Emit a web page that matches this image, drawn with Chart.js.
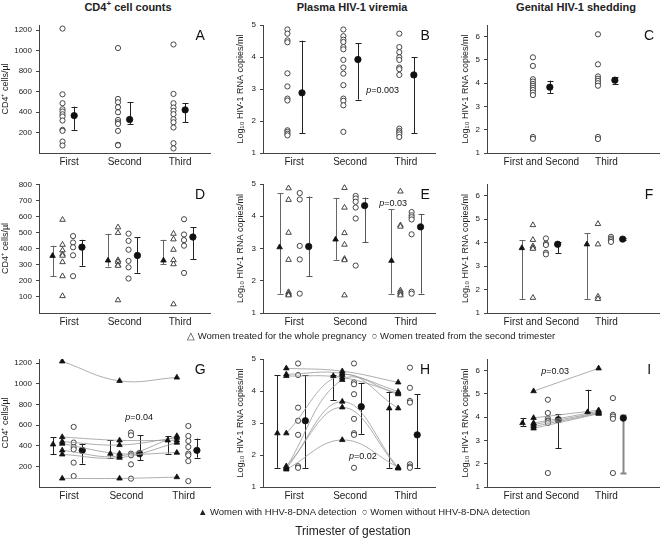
<!DOCTYPE html>
<html>
<head>
<meta charset="utf-8">
<script src="https://cdn.jsdelivr.net/npm/chart.js@4.4.1/dist/chart.umd.min.js"></script>
<style>
  body { margin: 0; background: #fff; font-family: "Liberation Sans", Arial, sans-serif; color: #222; }
  #wrap { position: relative; width: 664px; height: 538px; overflow: hidden; }
  canvas { position: absolute; }
  .col-title { position: absolute; top: 1px; width: 220px; text-align: center; font-weight: bold; font-size: 11px; }
  .col-title sup { font-size: 8px; line-height: 0; }
  .legend { position: absolute; font-size: 9.5px; white-space: nowrap; }
  .xtitle { position: absolute; top: 524px; left: 253px; width: 200px; text-align: center; font-size: 12px; }
</style>
</head>
<body>
<div id="wrap">
  <div class="col-title" style="left:18px">CD4<sup>+</sup> cell counts</div>
  <div class="col-title" style="left:242px">Plasma HIV-1 viremia</div>
  <div class="col-title" style="left:466px">Genital HIV-1 shedding</div>

  <canvas id="cA" width="215" height="160" style="left:0;top:15px"></canvas>
  <canvas id="cB" width="225" height="160" style="left:215px;top:15px"></canvas>
  <canvas id="cC" width="224" height="160" style="left:440px;top:15px"></canvas>
  <canvas id="cD" width="215" height="160" style="left:0;top:174px"></canvas>
  <canvas id="cE" width="225" height="160" style="left:215px;top:174px"></canvas>
  <canvas id="cF" width="224" height="160" style="left:440px;top:174px"></canvas>
  <canvas id="cG" width="215" height="160" style="left:0;top:349px"></canvas>
  <canvas id="cH" width="225" height="160" style="left:215px;top:349px"></canvas>
  <canvas id="cI" width="224" height="160" style="left:440px;top:349px"></canvas>

  <div class="legend" style="left:187px;top:330px">&#9651; Women treated for the whole pregnancy&nbsp; &#9675; Women treated from the second trimester</div>
  <div class="legend" style="left:198px;top:506px">&#9650; Women with HHV-8-DNA detection&nbsp; &#9675; Women without HHV-8-DNA detection</div>
  <div class="xtitle">Trimester of gestation</div>
</div>
<script>
// categories and tick labels
const trimesters = ["First", "Second", "Third"];
const periods = ["First and Second", "Third"];
const cd4Ticks = [200, 400, 600, 800, 1000, 1200];
const cd4SplitTicks = [100, 200, 300, 400, 500, 600, 700, 800];
const plasmaTicks = [1, 2, 3, 4, 5];
const genitalTicks = [1, 2, 3, 4, 5, 6];

// A - CD4 all women
const cd4All = [
  [1215, 573, 486, 427, 405, 378, 356, 317, 226, 216, 112, 73],
  [1025, 528, 495, 447, 398, 323, 300, 284, 216, 80, 75],
  [1060, 577, 486, 444, 411, 379, 330, 300, 249, 96, 45]
];
const cd4AllMean = [365, 327, 421];
const cd4AllLow = [226, 284, 300];
const cd4AllHigh = [453, 495, 486];

// B - plasma viremia all women
const plasmaAll = [
  [4.86, 4.73, 4.52, 4.46, 3.49, 3.08, 2.70, 2.64, 1.71, 1.66, 1.60, 1.55],
  [4.86, 4.65, 4.54, 4.47, 4.31, 4.24, 3.91, 3.67, 3.48, 3.12, 2.70, 2.63, 2.49, 1.66],
  [4.73, 4.31, 4.15, 3.99, 3.91, 3.67, 3.62, 3.44, 1.76, 1.69, 1.64, 1.58, 1.50]
];
const plasmaAllMean = [2.88, 3.92, 3.44];
const plasmaAllLow = [1.62, 2.67, 1.62];
const plasmaAllHigh = [4.51, 4.44, 3.99];

// C - genital shedding all women
const genitalAll = [
  [5.11, 4.74, 4.17, 4.07, 3.97, 3.89, 3.80, 3.71, 3.60, 3.49, 1.69, 1.61],
  [6.10, 4.81, 4.29, 4.19, 4.10, 4.00, 3.89, 1.69, 1.60]
];
const genitalAllMean = [3.83, 4.13];
const genitalAllLow = [3.57, 3.97];
const genitalAllHigh = [4.11, 4.25];

// D - CD4 by treatment start
const cd4Whole = [
  [582, 426, 391, 366, 358, 318, 230, 106],
  [535, 500, 330, 320, 300, 295, 80],
  [495, 460, 395, 330, 305, 55]
];
const cd4Second = [
  [480, 440, 410, 360, 230],
  [495, 450, 395, 325, 285, 215],
  [585, 490, 455, 420, 250]
];
const cd4WholeMean = [357, 328, 328];
const cd4WholeLow = [228, 290, 305];
const cd4WholeHigh = [420, 494, 457];
const cd4SecondMean = [411, 359, 474];
const cd4SecondLow = [295, 251, 336];
const cd4SecondHigh = [457, 474, 536];

// E - plasma by treatment start
const plasmaWhole = [
  [4.87, 4.51, 3.49, 2.65, 1.65, 1.60, 1.57, 1.55],
  [4.88, 4.27, 3.48, 3.12, 2.68, 2.64, 1.55],
  [4.77, 3.72, 3.68, 1.70, 1.65, 1.60, 1.55]
];
const plasmaSecond = [
  [4.72, 4.52, 3.08, 2.66, 1.60],
  [4.63, 4.55, 4.45, 4.27, 3.93, 2.47],
  [4.13, 4.03, 3.97, 3.90, 3.44, 1.66, 1.60]
];
const plasmaWholeMean = [3.04, 3.28, 2.62];
const plasmaWholeLow = [1.60, 2.65, 1.60];
const plasmaWholeHigh = [4.71, 4.57, 4.21];
const plasmaSecondMean = [3.06, 4.33, 3.67];
const plasmaSecondLow = [2.15, 3.20, 1.60];
const plasmaSecondHigh = [4.61, 4.58, 4.06];

// F - genital by treatment start
const genitalWhole = [
  [4.75, 4.12, 3.85, 3.78, 3.74, 1.65],
  [4.80, 3.93, 1.70, 1.60]
];
const genitalSecond = [
  [4.18, 3.95, 3.90, 3.57, 3.50],
  [4.25, 4.17, 4.10, 4.03]
];
const genitalWholeMean = [3.77, 3.93];
const genitalWholeLow = [1.60, 1.60];
const genitalWholeHigh = [4.10, 4.39];
const genitalSecondMean = [3.93, 4.15];
const genitalSecondLow = [3.55, 4.10];
const genitalSecondHigh = [4.03, 4.20];

// G - CD4 by HHV-8 (positive women followed across trimesters)
const cd4Hhv = [
  [1217, 484, 440, 420, 355, 316, 83],
  [1028, 452, 407, 323, 300, 284, 83],
  [1061, 452, 478, 333, 494, 430, 96]
];
const cd4NoHhv = [
  [582, 430, 388, 365, 236, 106],
  [527, 501, 323, 307, 219, 81],
  [591, 494, 446, 388, 323, 307, 251, 57]
];
const cd4HhvMean = [413, 323, 452];
const cd4HhvLow = [316, 284, 323];
const cd4HhvHigh = [484, 452, 494];
const cd4NoHhvMean = [355, 323, 355];
const cd4NoHhvLow = [226, 258, 284];
const cd4NoHhvHigh = [420, 501, 469];

// H - plasma by HHV-8
const plasmaHhv = [
  [4.71, 4.52, 4.47, 2.68, 1.62, 1.58, 1.65, 1.55],
  [4.62, 4.55, 4.42, 4.50, 4.35, 3.67, 3.49, 2.47],
  [4.27, 3.98, 3.93, 3.46, 3.90, 1.60, 1.58, 1.62]
];
const plasmaNoHhv = [
  [4.86, 4.50, 3.48, 3.07, 2.63, 1.65, 1.60],
  [4.86, 4.27, 4.21, 3.90, 3.13, 2.68, 2.63, 1.60],
  [4.73, 4.10, 3.69, 3.64, 1.71, 1.64, 1.60]
];
const plasmaHhvMean = [2.68, 4.47, 3.46];
const plasmaHhvLow = [1.60, 3.72, 1.60];
const plasmaHhvHigh = [4.50, 4.50, 3.98];
const plasmaNoHhvMean = [3.07, 3.51, 2.63];
const plasmaNoHhvLow = [1.60, 2.66, 1.60];
const plasmaNoHhvHigh = [4.50, 4.24, 3.90];

// I - genital by HHV-8
const genitalHhv = [
  [5.12, 3.97, 3.75, 3.68, 3.60, 3.52],
  [6.10, 4.30, 4.25, 4.20, 4.17, 4.15]
];
const genitalNoHhv = [
  [4.75, 4.18, 3.94, 3.86, 3.82, 3.75, 1.60],
  [4.82, 4.10, 4.03, 3.93, 1.60]
];
const genitalHhvMean = [3.75, 4.22];
const genitalHhvLow = [3.63, 4.22];
const genitalHhvHigh = [3.97, 5.18];
const genitalNoHhvMean = [3.89, 3.96];
const genitalNoHhvLow = [2.67, 1.59];
const genitalNoHhvHigh = [4.13, 4.10];

// ---- styling ----
const fontFamily = "'Liberation Sans', Arial, sans-serif";
Chart.defaults.font.family = fontFamily;
Chart.defaults.color = "#222";

const ink = "#222";
const axisColor = "#444";
const openCircle = { pointStyle: "circle", pointRadius: 2.6, pointBackgroundColor: "#fff", pointBorderColor: "#333", pointBorderWidth: 0.9 };
const openTri = { pointStyle: "triangle", pointRadius: 3.2, pointBackgroundColor: "#fff", pointBorderColor: "#333", pointBorderWidth: 0.9 };
const filledTri = { pointStyle: "triangle", pointRadius: 3.2, pointBackgroundColor: "#111", pointBorderColor: "#111", pointBorderWidth: 0.8 };
const filledDot = { pointStyle: "circle", pointRadius: 3.2, pointBackgroundColor: "#111", pointBorderColor: "#111", pointBorderWidth: 0.8 };

function cloud(groups, shift, style) {
  return Object.assign({
    data: groups.flatMap((vals, i) => vals.map(v => ({ x: i + 1 + shift, y: v })))
  }, style);
}

function summary(mean, low, high, shift, style, barColor, barWidth) {
  return Object.assign({
    data: mean.map((v, i) => ({ x: i + 1 + shift, y: v })),
    errLow: low, errHigh: high, errColor: barColor, errWidth: barWidth || 1
  }, style);
}

// one curved line per woman followed over time
function followed(groups, shift) {
  return groups[0].map((_, w) => Object.assign({
    data: groups.map((vals, i) => ({ x: i + 1 + shift, y: vals[w] })),
    showLine: true, tension: 0.4, borderColor: "#999", borderWidth: 0.8
  }, filledTri));
}

const extras = {
  id: "extras",
  beforeDatasetsDraw(chart) {
    const { ctx, scales: { x, y } } = chart;
    chart.data.datasets.forEach(ds => {
      if (!ds.errLow) return;
      ds.data.forEach((p, i) => {
        const px = Math.round(x.getPixelForValue(p.x)) + 0.5;
        const y1 = y.getPixelForValue(ds.errLow[i]);
        const y2 = y.getPixelForValue(ds.errHigh[i]);
        ctx.save();
        ctx.strokeStyle = Array.isArray(ds.errColor) ? ds.errColor[i] : ds.errColor;
        ctx.lineWidth = Array.isArray(ds.errWidth) ? ds.errWidth[i] : ds.errWidth;
        ctx.beginPath();
        ctx.moveTo(px, y1); ctx.lineTo(px, y2);
        ctx.moveTo(px - 3, Math.round(y1) + 0.5); ctx.lineTo(px + 3, Math.round(y1) + 0.5);
        ctx.moveTo(px - 3, Math.round(y2) + 0.5); ctx.lineTo(px + 3, Math.round(y2) + 0.5);
        ctx.stroke();
        ctx.restore();
      });
    });
  },
  afterDraw(chart, args, opts) {
    const { ctx, chartArea: a, scales: { x, y } } = chart;
    ctx.save();
    ctx.fillStyle = "#111";
    ctx.textBaseline = "middle";
    ctx.textAlign = "center";
    ctx.font = "14px " + fontFamily;
    ctx.fillText(opts.letter, a.right - 10, a.top + 11);
    if (opts.p) {
      const cx = x.getPixelForValue(opts.p.x);
      const cy = y.getPixelForValue(opts.p.y);
      ctx.textAlign = "left";
      ctx.font = "italic 9px " + fontFamily;
      const w1 = ctx.measureText("p").width;
      ctx.font = "9px " + fontFamily;
      const rest = "=" + opts.p.text;
      const w2 = ctx.measureText(rest).width;
      const start = cx - (w1 + w2) / 2;
      ctx.font = "italic 9px " + fontFamily;
      ctx.fillText("p", start, cy);
      ctx.font = "9px " + fontFamily;
      ctx.fillText(rest, start + w1, cy);
    }
    ctx.restore();
  }
};

const cd4Title = "CD4\u207A cells/\u00B5l";
const logTitle = "Log\u2081\u2080 HIV-1 RNA copies/ml";

function panel(id, o) {
  new Chart(document.getElementById(id), {
    type: "scatter",
    data: { datasets: o.datasets },
    plugins: [extras],
    options: {
      responsive: false,
      devicePixelRatio: 1,
      animation: false,
      events: [],
      layout: { padding: { top: 10, left: o.padLeft, right: 0, bottom: 0 } },
      plugins: {
        legend: { display: false },
        tooltip: { enabled: false },
        extras: { letter: o.letter, p: o.p }
      },
      scales: {
        x: {
          type: "linear", min: o.xMin, max: o.xMax,
          afterBuildTicks: s => { s.ticks = o.labels.map((_, i) => ({ value: i + 1 })); },
          afterFit: s => { s.height = o.xHeight; },
          ticks: { callback: v => o.labels[Math.round(v) - 1], font: { size: 10 }, color: ink, padding: 3, autoSkip: false, maxRotation: 0 },
          grid: { display: false, drawTicks: false, tickLength: 0 },
          border: { color: axisColor, width: 1 }
        },
        y: {
          min: o.yMin, max: o.yMax,
          afterBuildTicks: s => { s.ticks = o.yTicks.map(v => ({ value: v })); },
          afterFit: s => { s.width = o.yWidth; },
          ticks: { callback: v => String(v), font: { size: 8 }, color: ink, padding: 4 },
          grid: { drawOnChartArea: false, tickLength: 3, color: axisColor },
          border: { color: axisColor, width: 1 },
          title: { display: true, text: o.yTitle, font: { size: 9 }, color: ink, padding: 0 }
        }
      }
    }
  });
}

const col1 = { padLeft: 0, yWidth: 39 };
const col2 = { padLeft: 20, yWidth: 28, xMin: 0.443, xMax: 3.52, labels: trimesters, yMin: 1, yMax: 5, yTicks: plasmaTicks, yTitle: logTitle };
const col3 = { padLeft: 20, yWidth: 27, xMin: 0.164, xMax: 2.81, labels: periods, yMin: 1, yMax: 6.5, yTicks: genitalTicks, yTitle: logTitle };

panel("cA", Object.assign({}, col1, {
  letter: "A", xHeight: 22, xMin: 0.456, xMax: 3.54, labels: trimesters,
  yMin: 0, yMax: 1250, yTicks: cd4Ticks, yTitle: cd4Title,
  datasets: [
    cloud(cd4All, -0.12, openCircle),
    summary(cd4AllMean, cd4AllLow, cd4AllHigh, 0.09, filledDot, ink)
  ]
}));

panel("cB", Object.assign({}, col2, {
  letter: "B", xHeight: 22, p: { x: 2.58, y: 2.95, text: "0.003" },
  datasets: [
    cloud(plasmaAll, -0.12, openCircle),
    summary(plasmaAllMean, plasmaAllLow, plasmaAllHigh, 0.14, filledDot, ink)
  ]
}));

panel("cC", Object.assign({}, col3, {
  letter: "C", xHeight: 22,
  datasets: [
    cloud(genitalAll, -0.13, openCircle),
    summary(genitalAllMean, genitalAllLow, genitalAllHigh, 0.13, filledDot, ink)
  ]
}));

panel("cD", Object.assign({}, col1, {
  letter: "D", xHeight: 21, xMin: 0.456, xMax: 3.54, labels: trimesters,
  yMin: 0, yMax: 805, yTicks: cd4SplitTicks, yTitle: cd4Title,
  datasets: [
    summary(cd4WholeMean, cd4WholeLow, cd4WholeHigh, -0.3, filledTri, "#666"),
    cloud(cd4Whole, -0.12, openTri),
    cloud(cd4Second, 0.07, openCircle),
    summary(cd4SecondMean, cd4SecondLow, cd4SecondHigh, 0.23, filledDot, ink)
  ]
}));

panel("cE", Object.assign({}, col2, {
  letter: "E", xHeight: 21, p: { x: 2.77, y: 4.4, text: "0.03" },
  datasets: [
    summary(plasmaWholeMean, plasmaWholeLow, plasmaWholeHigh, -0.26, filledTri, "#666"),
    cloud(plasmaWhole, -0.1, openTri),
    cloud(plasmaSecond, 0.1, openCircle),
    summary(plasmaSecondMean, plasmaSecondLow, plasmaSecondHigh, 0.26, filledDot, "#555")
  ]
}));

panel("cF", Object.assign({}, col3, {
  letter: "F", xHeight: 21,
  datasets: [
    summary(genitalWholeMean, genitalWholeLow, genitalWholeHigh, -0.3, filledTri, "#666"),
    cloud(genitalWhole, -0.13, openTri),
    cloud(genitalSecond, 0.07, openCircle),
    summary(genitalSecondMean, genitalSecondLow, genitalSecondHigh, 0.25, filledDot, ink)
  ]
}));

panel("cG", Object.assign({}, col1, {
  letter: "G", xHeight: 22, xMin: 0.475, xMax: 3.46, labels: trimesters,
  yMin: 0, yMax: 1240, yTicks: cd4Ticks, yTitle: cd4Title, p: { x: 2.22, y: 676, text: "0.04" },
  datasets: [
    summary(cd4HhvMean, cd4HhvLow, cd4HhvHigh, -0.28, filledTri, ink),
    ...followed(cd4Hhv, -0.12),
    cloud(cd4NoHhv, 0.08, openCircle),
    summary(cd4NoHhvMean, cd4NoHhvLow, cd4NoHhvHigh, 0.23, filledDot, ink)
  ]
}));

panel("cH", Object.assign({}, col2, {
  letter: "H", xHeight: 22, p: { x: 2.23, y: 1.94, text: "0.02" },
  datasets: [
    summary(plasmaHhvMean, plasmaHhvLow, plasmaHhvHigh, -0.3, filledTri, ink),
    ...followed(plasmaHhv, -0.14),
    cloud(plasmaNoHhv, 0.07, openCircle),
    summary(plasmaNoHhvMean, plasmaNoHhvLow, plasmaNoHhvHigh, 0.2, filledDot, ink)
  ]
}));

panel("cI", Object.assign({}, col3, {
  letter: "I", xHeight: 22, p: { x: 1.21, y: 5.96, text: "0.03" },
  datasets: [
    summary(genitalHhvMean, genitalHhvLow, genitalHhvHigh, -0.29, filledTri, ink),
    ...followed(genitalHhv, -0.12),
    cloud(genitalNoHhv, 0.1, openCircle),
    summary(genitalNoHhvMean, genitalNoHhvLow, genitalNoHhvHigh, 0.26, filledDot, [ink, "#888"], [1, 2])
  ]
}));
</script>
</body>
</html>
